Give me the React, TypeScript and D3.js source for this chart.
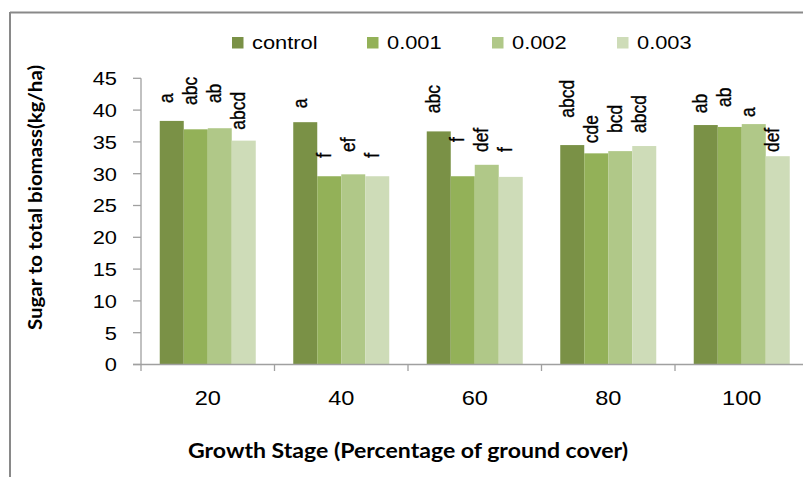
import React from "react";
import * as d3 from "d3";

const categories = ["20", "40", "60", "80", "100"];
const seriesNames = ["control", "0.001", "0.002", "0.003"];
const controlVals = [38.3, 38.1, 36.65, 34.5, 37.65];
const v001 = [36.98, 29.6, 29.6, 33.2, 37.35];
const v002 = [37.15, 29.9, 31.4, 33.55, 37.8];
const v003 = [35.2, 29.6, 29.5, 34.35, 32.75];
const lettersControl = ["a", "a", "abc", "abcd", "ab"];
const letters001 = ["abc", "f", "f", "cde", "ab"];
const letters002 = ["ab", "ef", "def", "bcd", "a"];
const letters003 = ["abcd", "f", "f", "abcd", "def"];
// where each significance letter starts (value units, above bar incl. error margin)
const labelControl = [41.1, 40.3, 39.5, 38.8, 39.5];
const label001 = [40.8, 32.5, 35.0, 34.8, 40.5];
const label002 = [41.1, 33.4, 33.4, 36.4, 38.9];
const label003 = [36.9, 32.5, 33.4, 36.4, 33.4];
const yTicks = [0, 5, 10, 15, 20, 25, 30, 35, 40, 45];
const colors = ["#7a9146", "#93b158", "#b0c888", "#cedcb8"];

const values = [controlVals, v001, v002, v003];
const letters = [lettersControl, letters001, letters002, letters003];
const labelPos = [labelControl, label001, label002, label003];

export default function App() {
  const W = 803, H = 477;
  const left = 141, step = 133.5;
  const x0 = d3.scaleBand<string>().domain(categories).range([left, left + step * categories.length]).padding(0);
  const gap = 18.75;
  const x1 = d3.scaleBand<string>().domain(seriesNames).range([gap, step - gap]).padding(0);
  const y = d3.scaleLinear().domain([0, 45]).range([364.5, 78.3]);
  const font = "'Liberation Sans', Arial, sans-serif";
  const titleFont = "Lato, 'Open Sans', sans-serif";
  const sx = 1.15;

  // legend layout
  const legendX = [232, 367, 492, 617];

  return (
    <svg width={W} height={H} style={{ position: "absolute", left: 0, top: 0, background: "#fff" }}>
      <rect x={0} y={0} width={W} height={H} fill="#fff" />
      {/* outer border */}
      <line x1={10} y1={12.5} x2={W} y2={12.5} stroke="#898989" strokeWidth={2} />
      <line x1={10} y1={12} x2={10} y2={H} stroke="#898989" strokeWidth={2} />

      {/* legend */}
      {seriesNames.map((s, i) => (
        <g key={s}>
          <rect x={legendX[i]} y={37} width={11.5} height={11.5} fill={colors[i]} />
          <text
            transform={`translate(${legendX[i] + 20},49) scale(${sx},1)`}
            fontFamily={font}
            fontSize={19}
            fill="#000"
          >
            {s}
          </text>
        </g>
      ))}

      {/* bars */}
      {categories.map((c, ci) => (
        <g key={c} transform={`translate(${x0(c)},0)`}>
          {seriesNames.map((s, si) => (
            <rect
              key={s}
              x={x1(s)!}
              y={y(values[si][ci])}
              width={x1.bandwidth()}
              height={y(0) - y(values[si][ci])}
              fill={colors[si]}
            />
          ))}
        </g>
      ))}

      {/* significance letters */}
      {categories.map((c, ci) =>
        seriesNames.map((s, si) => {
          const cx = x0(c)! + x1(s)! + x1.bandwidth() / 2;
          return (
            <text
              key={c + s}
              transform={`translate(${cx + 1.5},${y(labelPos[si][ci])}) scale(${sx},1) rotate(-90)`}
              fontFamily={font}
              fontSize={17.5}
              stroke="#000"
              strokeWidth={0.3}
              fill="#000"
            >
              {letters[si][ci]}
            </text>
          );
        })
      )}

      {/* y axis */}
      <line x1={left} y1={y(45)} x2={left} y2={371} stroke="#a0a0a0" strokeWidth={1.3} />
      {yTicks.map((t) => (
        <g key={t}>
          <line x1={133} x2={left} y1={y(t)} y2={y(t)} stroke="#a0a0a0" strokeWidth={1.3} />
          <text
            transform={`translate(117,${y(t) + 6.8}) scale(${sx},1)`}
            textAnchor="end"
            fontFamily={font}
            fontSize={19}
            fill="#000"
          >
            {t}
          </text>
        </g>
      ))}

      {/* x axis */}
      <line x1={133} y1={y(0)} x2={W} y2={y(0)} stroke="#a0a0a0" strokeWidth={1.3} />
      {categories.map((c) => (
        <line key={"t" + c} x1={x0(c)! + step} x2={x0(c)! + step} y1={y(0)} y2={371} stroke="#a0a0a0" strokeWidth={1.3} />
      ))}
      {categories.map((c) => (
        <text
          key={"l" + c}
          transform={`translate(${x0(c)! + step / 2},405) scale(${sx},1)`}
          textAnchor="middle"
          fontFamily={font}
          fontSize={20.5}
          fill="#000"
        >
          {c}
        </text>
      ))}

      {/* axis titles */}
      <text
        x={408}
        y={458}
        textAnchor="middle"
        fontFamily={titleFont}
        fontWeight="bold"
        fontSize={20}
        textLength={440}
        lengthAdjust="spacingAndGlyphs"
        fill="#000"
      >
        Growth Stage (Percentage of ground cover)
      </text>
      <text
        transform={`translate(42,197.5) rotate(-90)`}
        textAnchor="middle"
        fontFamily={titleFont}
        fontWeight="bold"
        fontSize={19.5}
        textLength={265}
        lengthAdjust="spacingAndGlyphs"
        fill="#000"
      >
        Sugar to total biomass(kg/ha)
      </text>
    </svg>
  );
}
